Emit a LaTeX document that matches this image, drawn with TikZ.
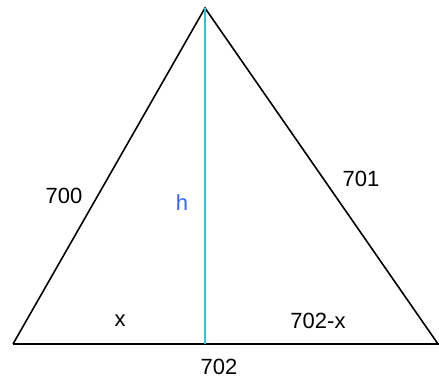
\documentclass[tikz,border=0pt]{standalone}
\usepackage{fontspec}
\setmainfont{Liberation Sans}
\definecolor{hline}{RGB}{40,200,212}
\definecolor{hblue}{RGB}{60,100,250}
\begin{document}
\begin{tikzpicture}[x=1pt,y=-1pt,
  edge/.style={line width=1.6pt,black},
  lbl/.style={font=\fontsize{22}{24}\selectfont,inner sep=0pt,anchor=center}]
\useasboundingbox (0,0) rectangle (439,380);
\coordinate (A) at (205,8);
\coordinate (B) at (13,344);
\coordinate (C) at (438,344);
\coordinate (D) at (205,344);
\draw[edge,line join=miter] (B) -- (A) -- (C);
\draw[edge] (B) -- (439,344);
\draw[line width=2pt,hline] (A) -- (D);
\node[lbl] (l700) at (64,196) {700};
\node[lbl] (l701) at (361,179) {701};
\node[lbl,text=hblue] (lh) at (182,203) {h};
\node[lbl] (lx) at (120,321) {x};
\node[lbl] (l702x) at (318,321) {702-x};
\node[lbl] (l702) at (219,367) {702};
\end{tikzpicture}
\end{document}
